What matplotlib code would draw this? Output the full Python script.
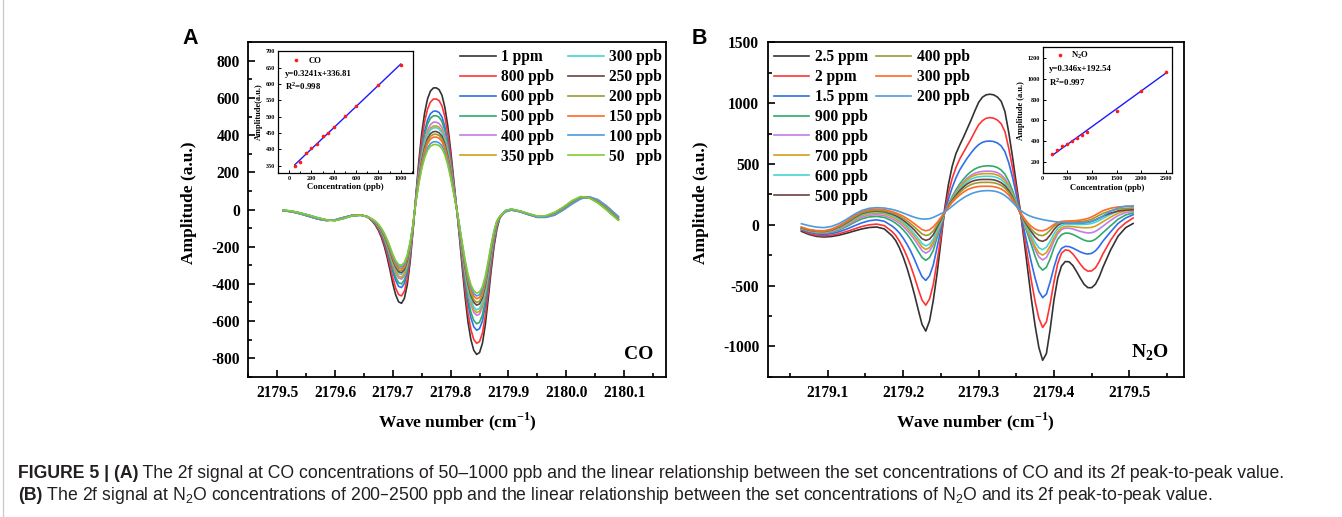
import matplotlib
matplotlib.use('Agg')
import matplotlib.pyplot as plt
from matplotlib.ticker import MultipleLocator, FormatStrFormatter
from matplotlib.lines import Line2D

plt.rcParams['font.family'] = ['Liberation Serif', 'DejaVu Serif']
plt.rcParams['font.weight'] = 'bold'
plt.rcParams['axes.unicode_minus'] = False
plt.rcParams['axes.labelweight'] = 'bold'

# ---------------- Panel A data (CO) ----------------
xA = [2179.51, 2179.525, 2179.54, 2179.555, 2179.57, 2179.585, 2179.60, 2179.615, 2179.63, 2179.645,
      2179.655, 2179.66, 2179.665, 2179.67, 2179.675, 2179.68, 2179.685, 2179.69, 2179.695, 2179.70,
      2179.705, 2179.71, 2179.715, 2179.72, 2179.725, 2179.73, 2179.735,
      2179.74, 2179.745, 2179.75, 2179.755, 2179.76, 2179.765, 2179.77, 2179.775, 2179.78, 2179.785,
      2179.79, 2179.795, 2179.80, 2179.805,
      2179.81, 2179.815, 2179.82, 2179.825, 2179.83, 2179.835, 2179.84, 2179.845, 2179.85, 2179.855,
      2179.86, 2179.865, 2179.87, 2179.875, 2179.88, 2179.885,
      2179.895, 2179.905, 2179.92, 2179.935, 2179.95, 2179.965, 2179.98, 2179.995, 2180.01, 2180.025,
      2180.04, 2180.055, 2180.07, 2180.08, 2180.09]

co_1000 = [-5, -10, -20, -33, -47, -57, -58, -46, -32, -30,
           -38, -50, -65, -85, -112, -148, -195, -255, -325, -400, -460, -497, -505, -478, -405, -280, -110,
           80, 260, 410, 520, 595, 637, 654, 655, 645, 615, 550, 450, 320, 170,
           20, -140, -310, -470, -605, -700, -758, -780, -770, -720, -620, -480, -330, -200, -105, -45,
           -8, 0, -10, -25, -38, -36, -20, 8, 42, 66, 64, 40, 2, -25, -52]
co_800 = [-5, -10, -20, -33, -47, -57, -58, -46, -32, -30,
          -38, -49, -63, -81, -106, -139, -182, -236, -300, -369, -424, -458, -465, -440, -373, -259, -104,
          73, 236, 372, 472, 540, 578, 594, 595, 586, 558, 499, 409, 291, 154,
          18, -129, -286, -434, -558, -646, -700, -720, -711, -665, -572, -443, -305, -185, -97, -44,
          -8, 0, -10, -25, -38, -36, -20, 8, 42, 66, 64, 40, 2, -25, -52]
co_600 = [-4, -9, -19, -31, -45, -56, -59, -48, -33, -30,
          -38, -48, -60, -76, -99, -128, -166, -216, -273, -334, -383, -414, -420, -398, -338, -236, -97,
          65, 210, 332, 421, 481, 515, 529, 530, 522, 498, 445, 364, 259, 138,
          16, -117, -258, -392, -504, -583, -631, -650, -641, -600, -516, -400, -275, -167, -87, -43,
          -6, 1, -9, -24, -37, -35, -18, 10, 44, 68, 63, 38, 0, -28, -55]
co_500 = [-4, -9, -19, -31, -45, -56, -59, -48, -33, -30,
          -38, -47, -59, -74, -95, -123, -160, -206, -260, -319, -365, -394, -400, -379, -322, -226, -94,
          62, 200, 316, 401, 459, 491, 504, 505, 497, 474, 424, 347, 247, 131,
          15, -110, -244, -370, -477, -552, -597, -615, -607, -567, -489, -378, -260, -158, -83, -42,
          -6, 1, -9, -24, -37, -35, -18, 10, 44, 68, 63, 38, 0, -28, -55]
co_400 = [-4, -9, -19, -31, -45, -56, -59, -48, -33, -30,
          -38, -47, -58, -72, -91, -117, -151, -195, -245, -299, -343, -369, -375, -356, -303, -213, -90,
          57, 187, 294, 373, 427, 457, 470, 470, 463, 442, 395, 323, 230, 122,
          14, -102, -227, -344, -442, -512, -554, -570, -563, -526, -453, -351, -241, -146, -77, -41,
          -6, 1, -9, -24, -37, -35, -18, 10, 44, 68, 63, 38, 0, -28, -55]
co_350 = [-4, -9, -19, -31, -45, -56, -59, -48, -33, -30,
          -38, -46, -57, -71, -90, -115, -148, -190, -239, -291, -333, -359, -365, -346, -295, -207, -88,
          55, 179, 282, 357, 409, 438, 449, 450, 443, 423, 378, 309, 220, 117,
          14, -100, -221, -335, -431, -498, -540, -555, -548, -513, -441, -342, -235, -142, -75, -41,
          -6, 1, -9, -24, -37, -35, -18, 10, 44, 68, 63, 38, 0, -28, -55]
co_300 = [-4, -9, -19, -31, -45, -56, -59, -48, -33, -30,
          -38, -46, -56, -69, -87, -112, -143, -183, -230, -280, -320, -345, -350, -332, -283, -200, -86,
          54, 175, 276, 349, 400, 428, 439, 440, 433, 413, 370, 302, 215, 114,
          13, -97, -215, -325, -419, -484, -525, -540, -533, -498, -429, -332, -228, -138, -73, -40,
          -6, 1, -9, -24, -37, -35, -18, 10, 44, 68, 63, 38, 0, -28, -55]
co_250 = [-6, -12, -23, -37, -51, -59, -56, -43, -31, -31,
          -38, -46, -55, -68, -86, -109, -140, -178, -224, -272, -311, -335, -340, -323, -275, -195, -85,
          51, 167, 263, 333, 381, 408, 419, 420, 413, 394, 353, 288, 205, 109,
          13, -92, -205, -310, -399, -462, -500, -515, -508, -475, -409, -317, -218, -132, -69, -40,
          -10, -2, -11, -27, -40, -39, -25, 3, 36, 62, 66, 46, 10, -18, -45]
co_200 = [-6, -12, -23, -37, -51, -59, -56, -43, -31, -31,
          -38, -46, -55, -67, -84, -107, -136, -174, -217, -264, -302, -325, -330, -313, -267, -189, -83,
          49, 161, 253, 321, 368, 394, 404, 405, 399, 380, 340, 278, 198, 105,
          12, -90, -199, -301, -388, -449, -486, -500, -494, -462, -397, -308, -212, -128, -67, -39,
          -10, -2, -11, -27, -40, -39, -25, 3, 36, 62, 66, 46, 10, -18, -45]
co_150 = [-6, -12, -23, -37, -51, -59, -56, -43, -31, -31,
          -38, -45, -54, -66, -83, -104, -133, -169, -211, -257, -293, -315, -320, -304, -260, -184, -82,
          48, 155, 244, 309, 354, 379, 389, 390, 384, 366, 327, 268, 190, 101,
          12, -86, -191, -289, -372, -431, -466, -480, -474, -443, -381, -295, -203, -123, -65, -39,
          -12, -3, -12, -28, -42, -42, -30, -2, 30, 58, 68, 52, 18, -10, -38]
co_100 = [-6, -12, -23, -37, -51, -59, -56, -43, -31, -31,
          -38, -45, -54, -65, -81, -102, -129, -164, -205, -249, -284, -305, -310, -294, -252, -179, -80,
          45, 145, 228, 290, 331, 355, 364, 365, 359, 343, 306, 251, 178, 95,
          11, -83, -185, -280, -361, -417, -452, -465, -459, -429, -370, -286, -197, -119, -63, -38,
          -12, -3, -12, -28, -42, -42, -30, -2, 30, 58, 68, 52, 18, -10, -38]
co_50 = [-4, -9, -19, -31, -45, -56, -59, -48, -33, -30,
         -38, -45, -53, -64, -80, -100, -126, -160, -199, -241, -275, -296, -300, -285, -244, -174, -78,
         43, 139, 219, 278, 318, 340, 349, 350, 344, 328, 294, 240, 171, 91,
         11, -81, -179, -271, -349, -404, -437, -450, -444, -415, -358, -277, -190, -115, -61, -38,
         -5, 2, -8, -22, -36, -33, -15, 14, 48, 70, 62, 34, -4, -32, -58]

co_labels = ['1 ppm', '800 ppb', '600 ppb', '500 ppb', '400 ppb', '350 ppb',
             '300 ppb', '250 ppb', '200 ppb', '150 ppb', '100 ppb', '50   ppb']

# inset A
co_conc = [50, 100, 150, 200, 250, 300, 350, 400, 500, 600, 800, 1000]
co_amp = [350, 362, 389, 403, 417, 440, 451, 469, 503, 534, 598, 657]
co_fit_x = [50, 1000]
co_fit_y = [353, 661]

# ---------------- Panel B data (N2O) ----------------
xB = [2179.065, 2179.075, 2179.085, 2179.095, 2179.105, 2179.115, 2179.125, 2179.135, 2179.145, 2179.155,
      2179.165, 2179.175, 2179.185,
      2179.19, 2179.195, 2179.2, 2179.205, 2179.21, 2179.215, 2179.22, 2179.225, 2179.23, 2179.235,
      2179.24, 2179.245, 2179.25, 2179.255, 2179.26, 2179.265, 2179.27, 2179.275, 2179.28, 2179.285,
      2179.29, 2179.295, 2179.3, 2179.305, 2179.31, 2179.315, 2179.32, 2179.325, 2179.33, 2179.335,
      2179.34, 2179.345, 2179.35, 2179.355, 2179.36, 2179.365, 2179.37, 2179.375, 2179.38, 2179.385,
      2179.39, 2179.395, 2179.4, 2179.405, 2179.41, 2179.415, 2179.42, 2179.425, 2179.43, 2179.435,
      2179.44, 2179.445, 2179.45, 2179.455, 2179.46, 2179.465,
      2179.475, 2179.485, 2179.495, 2179.505]

n2o_2500 = [-55, -80, -96, -101, -97, -86, -70, -52, -35, -23, -19, -35, -90,
            -130, -190, -265, -355, -460, -575, -700, -820, -875, -790,
            -620, -400, -140, 130, 330, 480, 585, 655, 720, 790,
            860, 935, 1005, 1048, 1068, 1073, 1068, 1050, 1015, 930,
            760, 560, 340, 130, -110, -360, -610, -830, -1010, -1115,
            -1060, -860, -620, -440, -340, -303, -305, -335, -385, -440,
            -490, -518, -518, -490, -430, -350,
            -210, -95, -25, 10]
n2o_2000 = [-45, -72, -88, -92, -87, -74, -56, -35, -15, -1, 5, -8, -55,
            -88, -135, -192, -260, -340, -430, -530, -620, -662, -610,
            -490, -300, -100, 110, 260, 380, 470, 540, 595, 650,
            705, 765, 820, 855, 875, 881, 876, 860, 830, 765,
            630, 470, 295, 120, -70, -265, -460, -630, -770, -845,
            -800, -650, -470, -320, -235, -207, -212, -240, -280, -325,
            -362, -382, -380, -355, -305, -240,
            -130, -40, 15, 55]
n2o_1500 = [-40, -62, -76, -80, -74, -58, -36, -10, 15, 33, 40, 28, -10,
            -35, -68, -110, -160, -218, -285, -360, -428, -458, -420,
            -330, -185, -40, 100, 210, 305, 385, 450, 500, 548,
            590, 628, 658, 677, 686, 688, 684, 672, 648, 600,
            510, 390, 250, 110, -30, -170, -310, -440, -548, -600,
            -570, -470, -350, -250, -195, -178, -180, -192, -208, -224,
            -236, -241, -236, -215, -180, -135,
            -60, 10, 55, 82]
n2o_900 = [-35, -55, -67, -70, -62, -43, -15, 18, 48, 64, 68, 60, 32,
           12, -12, -42, -78, -120, -168, -220, -270, -293, -270,
           -210, -105, -5, 100, 170, 232, 287, 335, 375, 410,
           437, 458, 472, 480, 484, 484, 480, 470, 450, 415,
           358, 282, 195, 105, 15, -75, -165, -260, -340, -374,
           -350, -280, -190, -120, -82, -69, -70, -80, -95, -112,
           -127, -136, -135, -120, -95, -65,
           -10, 45, 80, 96]
n2o_800 = [-32, -52, -63, -66, -57, -36, -6, 30, 62, 78, 82, 75, 50,
           33, 12, -14, -46, -82, -122, -168, -213, -234, -215,
           -165, -75, 10, 100, 165, 222, 272, 315, 352, 383,
           406, 423, 433, 438, 440, 440, 437, 428, 410, 378,
           328, 260, 182, 100, 20, -55, -130, -205, -265, -290,
           -270, -210, -135, -75, -40, -28, -28, -35, -45, -55,
           -63, -68, -66, -55, -35, -12,
           35, 75, 100, 109]
n2o_700 = [-30, -49, -58, -60, -50, -28, 4, 42, 75, 91, 95, 89, 66,
           50, 30, 5, -24, -58, -96, -138, -183, -204, -188,
           -142, -60, 15, 100, 160, 215, 265, 307, 343, 372,
           393, 407, 415, 419, 420, 420, 417, 408, 392, 362,
           315, 252, 178, 100, 25, -45, -112, -180, -232, -250,
           -230, -175, -108, -55, -25, -14, -13, -16, -20, -23,
           -25, -25, -22, -12, 5, 25,
           62, 95, 115, 123]
n2o_600 = [-28, -47, -56, -58, -47, -23, 10, 50, 84, 101, 105, 99, 78,
           63, 44, 20, -8, -40, -75, -114, -155, -174, -160,
           -118, -45, 25, 100, 155, 208, 253, 293, 327, 354,
           374, 387, 394, 397, 398, 398, 395, 386, 370, 342,
           298, 240, 172, 100, 32, -30, -88, -145, -190, -205,
           -185, -135, -75, -30, -5, 3, 4, 3, 2, 2,
           3, 5, 10, 20, 35, 52,
           85, 112, 130, 137]
n2o_500 = [-25, -45, -54, -56, -44, -18, 16, 57, 92, 108, 112, 107, 88,
           75, 58, 37, 12, -15, -45, -80, -115, -129, -118,
           -82, -20, 40, 100, 155, 202, 243, 280, 311, 336,
           353, 364, 370, 372, 372, 372, 369, 360, 345, 320,
           280, 228, 165, 100, 40, -12, -58, -100, -128, -137,
           -122, -85, -40, -5, 12, 16, 15, 14, 14, 15,
           17, 21, 28, 40, 55, 70,
           95, 112, 120, 123]
n2o_400 = [-22, -42, -52, -54, -41, -14, 21, 63, 98, 114, 118, 114, 97,
           86, 71, 53, 31, 7, -20, -48, -76, -89, -80,
           -50, -2, 50, 100, 150, 193, 231, 264, 292, 314,
           330, 340, 346, 348, 348, 348, 345, 337, 323, 300,
           265, 218, 162, 102, 48, 2, -38, -68, -86, -90,
           -75, -45, -12, 10, 20, 22, 22, 22, 23, 25,
           29, 35, 45, 60, 77, 93,
           115, 128, 134, 135]
n2o_300 = [-20, -39, -48, -50, -36, -7, 30, 73, 108, 124, 128, 124, 108,
           98, 85, 70, 51, 30, 7, -17, -40, -50, -42,
           -17, 18, 60, 100, 145, 183, 216, 244, 268, 287,
           300, 309, 314, 316, 316, 316, 313, 306, 294, 274,
           244, 203, 156, 105, 58, 18, -14, -36, -48, -50,
           -40, -20, 2, 18, 27, 30, 31, 32, 34, 38,
           44, 52, 64, 80, 98, 115,
           135, 146, 150, 150]
n2o_200 = [8, -8, -20, -24, -14, 10, 45, 85, 117, 135, 140, 137, 126,
           118, 108, 96, 84, 72, 61, 52, 47, 46, 50,
           60, 75, 90, 105, 127, 152, 177, 200, 221, 239,
           254, 265, 273, 278, 280, 280, 277, 270, 258, 240,
           215, 185, 152, 122, 98, 80, 67, 57, 49, 42,
           36, 31, 26, 22, 19, 16, 14, 13, 13, 14,
           16, 20, 27, 38, 53, 72,
           110, 138, 152, 155]

n2o_labels = ['2.5 ppm', '2 ppm', '1.5 ppm', '900 ppb', '800 ppb', '700 ppb',
              '600 ppb', '500 ppb', '400 ppb', '300 ppb', '200 ppb']

# inset B
n2o_conc = [200, 300, 400, 500, 600, 700, 800, 900, 1500, 2000, 2500]
n2o_amp = [278, 316, 350, 376, 400, 426, 458, 485, 688, 885, 1070]
n2o_fit_x = [200, 2500]
n2o_fit_y = [262, 1058]

palette = ['#333333', '#FF3333', '#2F6FE8', '#2FAA68', '#C27CE6', '#D4A017',
           '#45D4D4', '#6E4040', '#9A9A30', '#FF6A26', '#4C9BE0', '#80CC33']

co_series = [co_1000, co_800, co_600, co_500, co_400, co_350, co_300, co_250, co_200, co_150, co_100, co_50]
n2o_series = [n2o_2500, n2o_2000, n2o_1500, n2o_900, n2o_800, n2o_700, n2o_600, n2o_500, n2o_400, n2o_300,
              n2o_200]
for i, s in enumerate(co_series):
    assert len(s) == len(xA), ('co', i, len(s), len(xA))
for i, s in enumerate(n2o_series):
    assert len(s) == len(xB), ('n2o', i, len(s), len(xB))

# ---------------- Figure / layout ----------------
W, H = 1342, 517
fig = plt.figure(figsize=(W / 100, H / 100), dpi=100)


def rect(l, t, r, b):
    return [l / W, 1 - b / H, (r - l) / W, (b - t) / H]


def style_main(ax):
    for sp in ax.spines.values():
        sp.set_linewidth(1.3)
    ax.tick_params(which='both', direction='in', top=False, right=False, width=1.2)
    ax.tick_params(which='major', length=5, pad=6, labelsize=11.2)
    ax.tick_params(which='minor', length=3)


def style_inset(ax):
    for sp in ax.spines.values():
        sp.set_linewidth(0.9)
    ax.tick_params(which='both', direction='in', top=False, right=False, width=0.7)
    ax.tick_params(which='major', length=2.5, pad=1.8, labelsize=4.4)
    ax.tick_params(which='minor', length=1.5)


leg_kw = dict(frameon=False, fontsize=11.2, handlelength=2.3, handletextpad=0.35,
              labelspacing=0.25, borderpad=0, borderaxespad=0)

# ---- Panel A ----
axA = fig.add_axes(rect(248.3, 42.3, 665.7, 376.7))
for ys, lab, col in zip(co_series, co_labels, palette):
    axA.plot(xA, ys, color=col, lw=1.2, label=lab)
axA.set_xlim(2179.45, 2180.172)
axA.set_ylim(-900, 900)
axA.xaxis.set_major_locator(MultipleLocator(0.1))
axA.xaxis.set_minor_locator(MultipleLocator(0.05))
axA.yaxis.set_major_locator(MultipleLocator(200))
axA.yaxis.set_minor_locator(MultipleLocator(100))
axA.xaxis.set_major_formatter(FormatStrFormatter('%.1f'))
axA.yaxis.set_major_formatter(FormatStrFormatter('%d'))
style_main(axA)
axA.set_xlabel('Wave number (cm$^{\\mathregular{-1}}$)', fontsize=12.5)
axA.set_ylabel('Amplitude (a.u.)', fontsize=12.5)
axA.xaxis.set_label_coords(0.5, -0.1346)
axA.xaxis.label.set_va('center')
axA.yaxis.set_label_coords(-0.143, 0.52)
axA.yaxis.label.set_va('center')
axA.legend(loc='upper left', bbox_to_anchor=(0.507, 0.979), ncol=2, columnspacing=0.9, **leg_kw)
axA.text(0.936, 0.065, 'CO', transform=axA.transAxes, ha='center', va='center', fontsize=14)

# ---- Panel B ----
axB = fig.add_axes(rect(767.5, 42.3, 1183.6, 376.7))
linesB = []
for ys, lab, col in zip(n2o_series, n2o_labels, palette):
    linesB.append(axB.plot(xB, ys, color=col, lw=1.2, label=lab)[0])
axB.set_xlim(2179.02, 2179.572)
axB.set_ylim(-1250, 1500)
axB.xaxis.set_major_locator(MultipleLocator(0.1))
axB.xaxis.set_minor_locator(MultipleLocator(0.05))
axB.yaxis.set_major_locator(MultipleLocator(500))
axB.yaxis.set_minor_locator(MultipleLocator(250))
axB.xaxis.set_major_formatter(FormatStrFormatter('%.1f'))
axB.yaxis.set_major_formatter(FormatStrFormatter('%d'))
style_main(axB)
axB.set_xlabel('Wave number (cm$^{\\mathregular{-1}}$)', fontsize=12.5)
axB.set_ylabel('Amplitude (a.u.)', fontsize=12.5)
axB.xaxis.set_label_coords(0.5, -0.1346)
axB.xaxis.label.set_va('center')
axB.yaxis.set_label_coords(-0.161, 0.52)
axB.yaxis.label.set_va('center')
legB1 = axB.legend(handles=linesB[:8], loc='upper left', bbox_to_anchor=(0.0147, 0.979), **leg_kw)
axB.add_artist(legB1)
axB.legend(handles=linesB[8:], loc='upper left', bbox_to_anchor=(0.260, 0.979), **leg_kw)
axB.text(0.919, 0.071, 'N$_\\mathregular{2}$O', transform=axB.transAxes, ha='center', va='center', fontsize=14)

# ---- Inset A ----
insA = fig.add_axes(rect(278, 51, 413, 173))
insA.plot(co_fit_x, co_fit_y, color='#1a1aff', lw=1.0, zorder=2)
insA.plot(co_conc, co_amp, linestyle='none', marker='o', ms=2.6, color='#ff1a1a', mec='none', label='CO', zorder=3)
insA.set_xlim(-100, 1110)
insA.set_ylim(328, 701)
insA.xaxis.set_major_locator(MultipleLocator(200))
insA.xaxis.set_minor_locator(MultipleLocator(100))
insA.yaxis.set_major_locator(MultipleLocator(50))
style_inset(insA)
insA.set_xlabel('Concentration (ppb)', fontsize=6.3, labelpad=2)
insA.set_ylabel('Amplitude(a.u.)', fontsize=6.0, labelpad=2)
insA.legend(loc='upper left', bbox_to_anchor=(0.093, 0.951), frameon=False, fontsize=6.3, numpoints=1,
            handlelength=1.2, handletextpad=0.85, borderpad=0, borderaxespad=0)
insA.text(0.052, 0.811, 'y=0.3241x+336.81', transform=insA.transAxes, ha='left', va='center', fontsize=6.3)
insA.text(0.052, 0.713, 'R$^\\mathregular{2}$=0.998', transform=insA.transAxes, ha='left', va='center', fontsize=6.3)

# ---- Inset B ----
insB = fig.add_axes(rect(1042.5, 47.3, 1172, 173.3))
insB.plot(n2o_fit_x, n2o_fit_y, color='#1a1aff', lw=1.0, zorder=2)
insB.plot(n2o_conc, n2o_amp, linestyle='none', marker='o', ms=2.6, color='#ff1a1a', mec='none',
          label='N$_\\mathregular{2}$O', zorder=3)
insB.set_xlim(0, 2620)
insB.set_ylim(88, 1306)
insB.xaxis.set_major_locator(MultipleLocator(500))
insB.yaxis.set_major_locator(MultipleLocator(200))
style_inset(insB)
insB.set_xlabel('Concentration (ppb)', fontsize=6.1, labelpad=2)
insB.set_ylabel('Amplitude (a.u.)', fontsize=6.0, labelpad=2)
insB.legend(loc='upper left', bbox_to_anchor=(0.0915, 0.979), frameon=False, fontsize=6.3, numpoints=1,
            handlelength=1.2, handletextpad=0.7, borderpad=0, borderaxespad=0)
insB.text(0.047, 0.825, 'y=0.346x+192.54', transform=insB.transAxes, ha='left', va='center', fontsize=6.3)
insB.text(0.047, 0.727, 'R$^\\mathregular{2}$=0.997', transform=insB.transAxes, ha='left', va='center', fontsize=6.3)

# ---- Panel letters ----
fig.text(190.5 / W, 1 - 39 / H, 'A', family='Liberation Sans', weight='bold', fontsize=15.5, ha='center', va='center')
fig.text(699.6 / W, 1 - 38.7 / H, 'B', family='Liberation Sans', weight='bold', fontsize=15.5, ha='center', va='center')

# ---- left frame line ----
fig.add_artist(Line2D([2.5 / W, 2.5 / W], [0, 1], transform=fig.transFigure, color='#c8c8c8', lw=0.9))

# ---- Caption ----
cap_color = '#231f20'
line1 = [('FIGURE 5 | (A)', 'bold'),
         (' The 2f signal at CO concentrations of 50\u20131000 ppb and the linear relationship between the set '
          'concentrations of CO and its 2f peak-to-peak value.', 'normal')]
line2 = [('(B)', 'bold'),
         (' The 2f signal at N$_\\mathregular{2}$O concentrations of 200\u20132500 ppb and the linear relationship '
          'between the set concentrations of N$_\\mathregular{2}$O and its 2f peak-to-peak value.', 'normal')]

renderer = fig.canvas.get_renderer()


def draw_line(pieces, x0, yc, size):
    x = x0
    objs = []
    for txt, w in pieces:
        t = fig.text(x / W, 1 - yc / H, txt, fontsize=size, weight=w, family=['Liberation Sans', 'DejaVu Sans'],
                     color=cap_color, ha='left', va='center')
        x += t.get_window_extent(renderer=renderer).width
        objs.append(t)
    return objs, x - x0


objs, wid = draw_line(line1, 18, 473, 12)
for o in objs:
    o.remove()
cap_size = 12 * 1270 / wid
draw_line(line1, 18, 473, cap_size)
draw_line(line2, 18, 496, cap_size)

fig.savefig('out.png', dpi=100)
